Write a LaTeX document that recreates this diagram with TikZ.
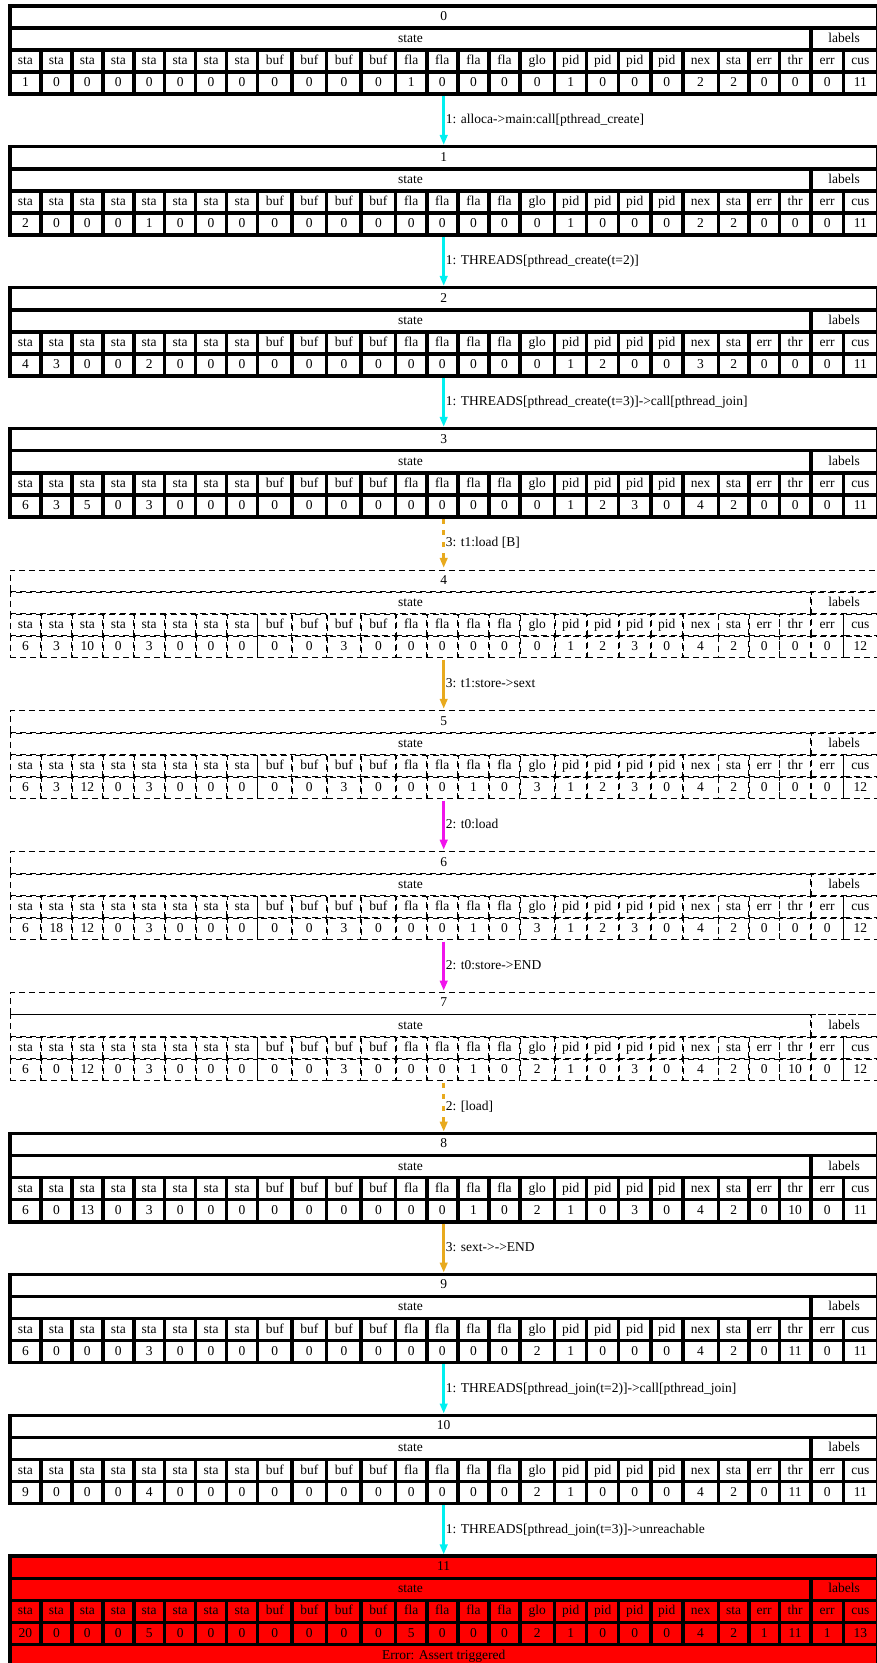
\documentclass[tikz,border=0pt]{standalone}
\usepackage{fontspec}
\setmainfont{Liberation Serif}
\usetikzlibrary{arrows.meta}
\definecolor{movecyan}{RGB}{0,240,240}
\definecolor{moveorange}{RGB}{232,170,30}
\definecolor{movemagenta}{RGB}{240,20,235}

\begin{document}
\begin{tikzpicture}[x=1pt, y=-1pt, >={Triangle[length=10pt, width=7.5pt]},
    font=\fontsize{13.5}{16}\selectfont,
    cell/.style={draw, line width=1.75pt, inner sep=0pt, text height=9.5pt, text depth=2.5pt},
    cellsolid/.style={fill=white},
    celldashed/.style={line width=0.9pt, dash pattern=on 6pt off 4pt},
    cellerror/.style={fill=red},
    rec/.style={draw, line width=1.75pt, inner sep=0pt, minimum width=869.15pt},
    recsolid/.style={},
    recdashed/.style={draw=none},
    recerror/.style={fill=red},
    move/.style={line width=3.5pt, ->},
    movedash/.style={dash pattern=on 5pt off 6.5pt},
    lbl/.style={behind path, anchor=west, xshift=0.5pt, inner sep=0pt, text height=9.5pt, text depth=2.5pt}]
    \useasboundingbox (0,0) rectangle (876,1663);
    \foreach \sk/\kind/\nr/\gap/\vals in {
        0/solid/4/1.75/{1,0,0,0,0,0,0,0,0,0,0,0,1,0,0,0,0,1,0,0,0,2,2,0,0,0,11},
        1/solid/4/1.75/{2,0,0,0,1,0,0,0,0,0,0,0,0,0,0,0,0,1,0,0,0,2,2,0,0,0,11},
        2/solid/4/1.75/{4,3,0,0,2,0,0,0,0,0,0,0,0,0,0,0,0,1,2,0,0,3,2,0,0,0,11},
        3/solid/4/1.75/{6,3,5,0,3,0,0,0,0,0,0,0,0,0,0,0,0,1,2,3,0,4,2,0,0,0,11},
        4/dashed/4/0.8/{6,3,10,0,3,0,0,0,0,0,3,0,0,0,0,0,0,1,2,3,0,4,2,0,0,0,12},
        5/dashed/4/0.8/{6,3,12,0,3,0,0,0,0,0,3,0,0,0,1,0,3,1,2,3,0,4,2,0,0,0,12},
        6/dashed/4/0.8/{6,18,12,0,3,0,0,0,0,0,3,0,0,0,1,0,3,1,2,3,0,4,2,0,0,0,12},
        7/dashed/4/0.8/{6,0,12,0,3,0,0,0,0,0,3,0,0,0,1,0,2,1,0,3,0,4,2,0,10,0,12},
        8/solid/4/1.75/{6,0,13,0,3,0,0,0,0,0,0,0,0,0,1,0,2,1,0,3,0,4,2,0,10,0,11},
        9/solid/4/1.75/{6,0,0,0,3,0,0,0,0,0,0,0,0,0,0,0,2,1,0,0,0,4,2,0,11,0,11},
        10/solid/4/1.75/{9,0,0,0,4,0,0,0,0,0,0,0,0,0,0,0,2,1,0,0,0,4,2,0,11,0,11},
        11/error/5/1.75/{20,0,0,0,5,0,0,0,0,0,0,0,5,0,0,0,2,1,0,0,0,4,2,1,11,1,13}}{
        \pgfmathsetmacro\rt{5.75+140.95*\sk}
        \node[rec, rec\kind, minimum height=22.1*\nr+1.75] (s\sk) at (443.7, {\rt+11.05*\nr}) {};
        \node[cell, cell\kind, minimum width=867.4-\gap, minimum height=22.1-\gap] (s\sk-id) at (443.7, {\rt+11.05}) {\sk};
        \node[cell, cell\kind, minimum width=800.9-\gap, minimum height=22.1-\gap] (s\sk-st) at (410.45, {\rt+33.15}) {state};
        \node[cell, cell\kind, minimum width=66.5-\gap, minimum height=22.1-\gap] (s\sk-lb) at (844.15, {\rt+33.15}) {labels};
        \foreach \hd/\xa/\xb [count=\ci] in {sta/10/40.94, sta/40.94/71.88, sta/71.88/102.81, sta/102.81/133.75,
            sta/133.75/164.69, sta/164.69/195.63, sta/195.63/226.56, sta/226.56/257.5,
            buf/257.5/292.05, buf/292.05/326.6, buf/326.6/361.15, buf/361.15/395.7,
            fla/395.7/426.8, fla/426.8/457.9, fla/457.9/489, fla/489/520.1, glo/520.1/554.6,
            pid/554.6/586.65, pid/586.65/618.7, pid/618.7/650.75, pid/650.75/682.8,
            nex/682.8/718.4, sta/718.4/748.9, err/748.9/779.4, thr/779.4/810.9, err/810.9/843.4, cus/843.4/877.4}{
            \pgfmathtruncatemacro\val{{\vals}[\ci-1]}
            \node[cell, cell\kind, minimum width=\xb-\xa-\gap, minimum height=22.1-\gap] (s\sk-h\ci) at ({(\xa+\xb)/2}, {\rt+55.25}) {\hd};
            \node[cell, cell\kind, minimum width=\xb-\xa-\gap, minimum height=22.1-\gap] (s\sk-v\ci) at ({(\xa+\xb)/2}, {\rt+77.35}) {\val};
        }
        \ifnum\nr>4
            \node[cell, cell\kind, minimum width=867.4-\gap, minimum height=22.1-\gap] (s\sk-er) at (443.7, {\rt+99.45}) {Error: Assert triggered};
        \fi
    }
    \draw[move, draw=movecyan] (s0.south) -- node[lbl] (e0) {1: alloca->main:call[pthread\_create]} (s1.north);
    \draw[move, draw=movecyan] (s1.south) -- node[lbl] (e1) {1: THREADS[pthread\_create(t=2)]} (s2.north);
    \draw[move, draw=movecyan] (s2.south) -- node[lbl] (e2) {1: THREADS[pthread\_create(t=3)]->call[pthread\_join]} (s3.north);
    \draw[move, movedash, draw=moveorange] (s3.south) -- node[lbl] (e3) {3: t1:load [B]} (s4.north);
    \draw[move, draw=moveorange] (s4.south) -- node[lbl] (e4) {3: t1:store->sext} (s5.north);
    \draw[move, draw=movemagenta] (s5.south) -- node[lbl] (e5) {2: t0:load} (s6.north);
    \draw[move, draw=movemagenta] (s6.south) -- node[lbl] (e6) {2: t0:store->END} (s7.north);
    \draw[move, movedash, draw=moveorange] (s7.south) -- node[lbl] (e7) {2: [load]} (s8.north);
    \draw[move, draw=moveorange] (s8.south) -- node[lbl] (e8) {3: sext->->END} (s9.north);
    \draw[move, draw=movecyan] (s9.south) -- node[lbl] (e9) {1: THREADS[pthread\_join(t=2)]->call[pthread\_join]} (s10.north);
    \draw[move, draw=movecyan] (s10.south) -- node[lbl] (e10) {1: THREADS[pthread\_join(t=3)]->unreachable} (s11.north);
\end{tikzpicture}
\end{document}
